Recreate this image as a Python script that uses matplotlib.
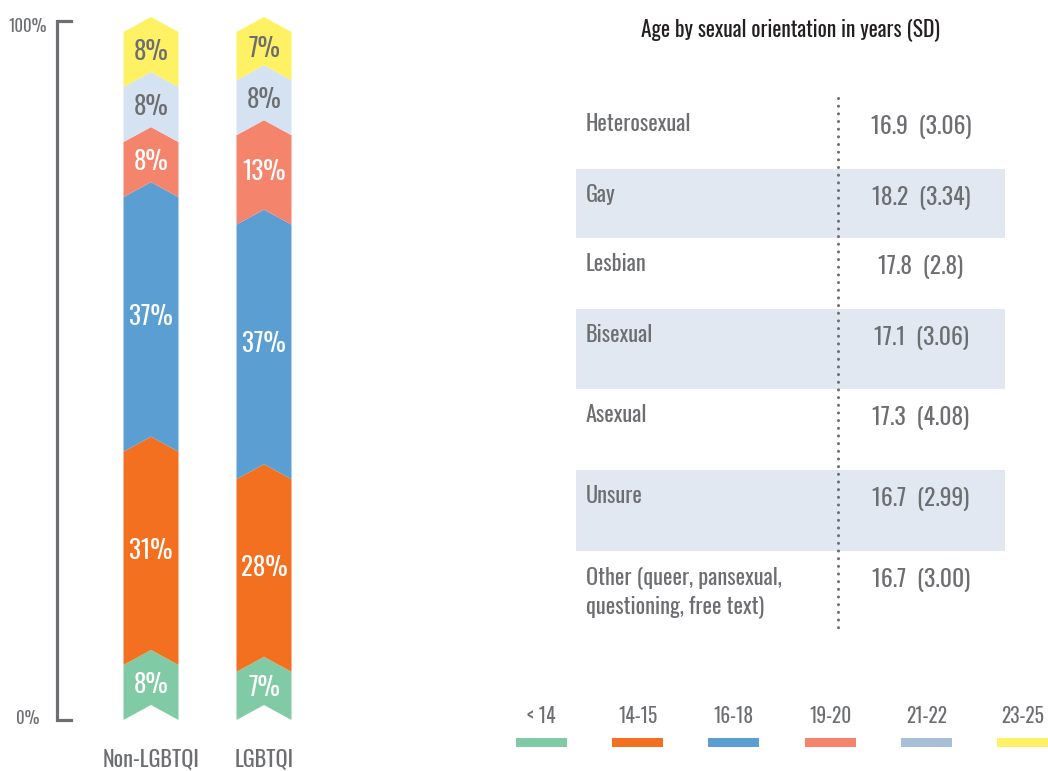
import matplotlib
matplotlib.use("Agg")
import matplotlib.pyplot as plt
from matplotlib.patches import Polygon, Rectangle
from matplotlib import font_manager

# ---------------- data ----------------
groups = ["Non-LGBTQI", "LGBTQI"]
age_bands = ["< 14", "14-15", "16-18", "19-20", "21-22", "23-25"]
non_lgbtqi = [8, 31, 37, 8, 8, 8]
lgbtqi = [7, 28, 37, 13, 8, 7]

orientations = ["Heterosexual", "Gay", "Lesbian", "Bisexual", "Asexual", "Unsure",
                "Other (queer, pansexual,\nquestioning, free text)"]
mean_age = [16.9, 18.2, 17.8, 17.1, 17.3, 16.7, 16.7]
sd_age = ["3.06", "3.34", "2.8", "3.06", "4.08", "2.99", "3.00"]

title = "Age by sexual orientation in years (SD)"

# ---------------- style ----------------
bar_colors = ["#80CBA5", "#F37021", "#5B9FD2", "#F5846D", "#D5E2F2", "#FEF264"]
legend_colors = ["#80CBA5", "#F37021", "#5B9FD2", "#F5846D", "#A8BFD7", "#FEF264"]
label_colors = ["white", "white", "white", "white", "#6D6E71", "#6D6E71"]
GRAY = "#6D6E71"
BAND = "#E2E8F1"

names = {f.name for f in font_manager.fontManager.ttflist}
FONT = "DejaVu Sans"
for cand in ["Oswald", "Pathway Gothic One", "Barlow Condensed", "Asap Condensed"]:
    if cand in names:
        FONT = cand
        break
plt.rcParams["font.family"] = [FONT, "DejaVu Sans"]

W, H = 1048, 771
fig = plt.figure(figsize=(W / 100, H / 100), dpi=100)

# ---------------- stacked chevron bars ----------------
px_per_unit = 113.0
ax_left_px, ax_right_px = 40, 330
y0_px, y100_px = 720, 32
ax = fig.add_axes([ax_left_px / W, (H - y0_px) / H,
                   (ax_right_px - ax_left_px) / W, (y0_px - y100_px) / H])
ax.set_xlim(-(151 - ax_left_px) / px_per_unit, 1 + (ax_right_px - 264) / px_per_unit)
ax.set_ylim(0, 100)
ax.axis("off")

px_per_pct = (y0_px - y100_px) / 100.0
depth = 15 / px_per_pct
bw = 55 / px_per_unit

for gi, vals in enumerate([non_lgbtqi, lgbtqi]):
    bottom = 0
    for si, v in enumerate(vals):
        top = bottom + v
        xc = gi
        verts = [(xc - bw / 2, bottom), (xc, bottom + depth), (xc + bw / 2, bottom),
                 (xc + bw / 2, top), (xc, top + depth), (xc - bw / 2, top)]
        ax.add_patch(Polygon(verts, closed=True, facecolor=bar_colors[si],
                             edgecolor="none", clip_on=False))
        ax.text(xc, (bottom + top) / 2 + depth / 2, f"{v}%", ha="center", va="center",
                fontsize=18, color=label_colors[si])
        bottom = top
    ax.text(gi, -(760 - y0_px) / px_per_pct, groups[gi], ha="center", va="center",
            fontsize=16, color=GRAY)

# bracket axis
bx = -(151 - 57) / px_per_unit
bx2 = -(151 - 71) / px_per_unit
ytop = (y0_px - 21) / px_per_pct
ax.plot([bx2, bx, bx, bx2], [ytop, ytop, 0, 0], color=GRAY, lw=2.3,
        solid_joinstyle="miter", clip_on=False)
lx = -(151 - 27.5) / px_per_unit
ax.text(lx, (y0_px - 26) / px_per_pct, "100%", ha="center", va="center", fontsize=12, color=GRAY)
ax.text(lx, (y0_px - 718) / px_per_pct, "0%", ha="center", va="center", fontsize=12, color=GRAY)

# ---------------- table + legend (pixel overlay) ----------------
ov = fig.add_axes([0, 0, 1, 1])
ov.set_xlim(0, W)
ov.set_ylim(H, 0)
ov.axis("off")

ov.text(790, 36, title, ha="center", va="baseline", fontsize=15.5, color="#231F20")

row_edges = [98, 169, 238, 309, 389, 470, 551, 631]
tbl_x0, tbl_x1 = 576, 1005
for i, (lab, m, sd) in enumerate(zip(orientations, mean_age, sd_age)):
    top, bot = row_edges[i], row_edges[i + 1]
    if i % 2 == 1:
        ov.add_patch(Rectangle((tbl_x0, top), tbl_x1 - tbl_x0, bot - top,
                               facecolor=BAND, edgecolor="none", zorder=0))
    for li, line in enumerate(lab.split("\n")):
        ov.text(586, top + 33 + li * 29, line, ha="left", va="baseline",
                fontsize=16, color=GRAY)
    ov.text(921, top + 36, f"{m:.1f}  ({sd})", ha="center", va="baseline",
            fontsize=17, color=GRAY)

ov.plot([838, 838], [row_edges[0], row_edges[-1]], color=GRAY, lw=2.2,
        linestyle=(0, (0.01, 2.5)), dash_capstyle="round", zorder=3)

# legend
for i, (lab, c) in enumerate(zip(age_bands, legend_colors)):
    x0 = 516 + i * 96.2
    ov.add_patch(Rectangle((x0, 738), 51, 9, facecolor=c, edgecolor="none"))
    ov.text(x0 + 25.5, 723, lab, ha="center", va="baseline", fontsize=14, color=GRAY)

fig.savefig("out.png", dpi=100)
